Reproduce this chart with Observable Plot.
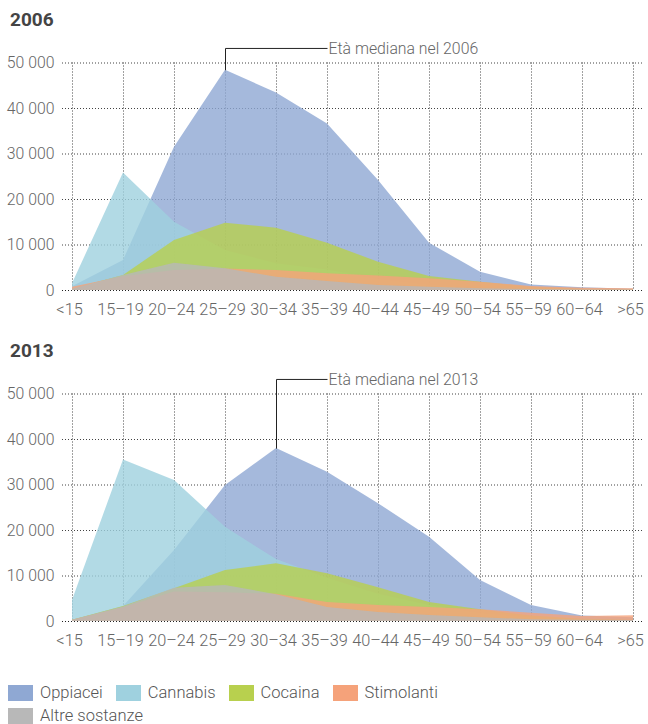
<!DOCTYPE html>
<html><head><meta charset="utf-8">
<script src="https://cdn.jsdelivr.net/npm/d3@7"></script>
<script src="https://cdn.jsdelivr.net/npm/@observablehq/plot@0.6"></script>
<style>
body{margin:0;background:#fff;font-family:Roboto,sans-serif;}
#wrap{position:relative;width:648px;height:724px;overflow:hidden;}
.title{position:absolute;left:10px;font-weight:bold;font-size:19px;line-height:19px;color:#444;font-family:Roboto,sans-serif;}
.chart{position:absolute;left:0;}
#legend{position:absolute;left:8px;top:685px;width:490px;display:flex;flex-wrap:wrap;row-gap:7px;font-size:16.5px;line-height:16px;color:#555;font-weight:300;}
.item{display:flex;align-items:center;margin-right:13px;}
.sw{width:25px;height:16px;margin-right:7px;}
</style></head>
<body><div id="wrap"></div>
<script>
const ages = ["<15","15–19","20–24","25–29","30–34","35–39","40–44","45–49","50–54","55–59","60–64",">65"];
const series = ["Oppiacei","Cannabis","Cocaina","Stimolanti","Altre sostanze"];
const colors = ["#8fa8d3","#9fd1df","#b8d04e","#f5a27a","#b8b8b8"];
const years = ["2006","2013"];
const yTicks = [0,10000,20000,30000,40000,50000];

const opp2006 = [800,6600,31500,48400,43400,36600,24200,10400,4000,1200,600,300];
const can2006 = [1500,25800,15000,8800,5900,4500,2500,1200,500,200,100,50];
const coc2006 = [300,3300,11000,14800,13700,10400,6200,3100,1800,700,300,200];
const sti2006 = [700,3000,4400,4700,4400,3700,3200,2600,1800,900,500,400];
const alt2006 = [300,3300,6000,4800,2900,2000,1100,700,400,200,100,100];

const opp2013 = [300,3300,15600,29900,38000,32800,25900,18500,9000,3500,1200,800];
const can2013 = [4600,35500,31000,20700,13600,9500,6000,3500,1800,800,300,100];
const coc2013 = [300,3300,7200,11200,12700,10500,7400,4200,2600,1200,500,300];
const sti2013 = [300,3000,6500,6300,6000,4200,3500,3100,2600,1800,1100,1250];
const alt2013 = [300,3200,7300,7900,5900,3100,2000,1300,800,400,300,200];

const medianAge = ["25–29","30–34"];
const medianPeak = [48400,38000];
const medianLabelAge = "35–39";
const medianLabelY = 53200;
const medianLabels = ["Età mediana nel 2006","Età mediana nel 2013"];

const titleTops = [10,341];
const chartTops = [30,361];

const valuesByYear = [
  [opp2006,can2006,coc2006,sti2006,alt2006],
  [opp2013,can2013,coc2013,sti2013,alt2013]
];

const fmt = d => d3.format(",")(d).replace(/,/g," ");
const wrap = document.getElementById("wrap");

years.forEach((yr, k) => {
  const t = document.createElement("div");
  t.className = "title"; t.style.top = titleTops[k] + "px"; t.textContent = yr;
  wrap.appendChild(t);

  const data = series.flatMap((s,i) => ages.map((a,j) => ({series:s, age:a, value: valuesByYear[k][i][j]})));
  const annot = [{age: medianAge[k], peak: medianPeak[k], ly: medianLabelY, lab: medianLabelAge, text: medianLabels[k]}];

  const chart = Plot.plot({
    width: 648, height: 290,
    marginLeft: 62, marginRight: 6, marginTop: 32.5, marginBottom: 30,
    style: {fontFamily: "Roboto, sans-serif", fontSize: "15.5px", fontWeight: 300, color: "#666", background: "transparent", overflow: "visible"},
    x: {type: "point", domain: ages, padding: 0.14, label: null},
    y: {domain: [0,50000], label: null},
    color: {domain: series, range: colors},
    marks: [
      Plot.gridX({stroke: "#222", strokeOpacity: 0.85, strokeDasharray: "1,2"}),
      Plot.gridY(yTicks, {stroke: "#222", strokeOpacity: 0.85, strokeDasharray: "1,2"}),
      Plot.areaY(data, {x: "age", y1: 0, y2: "value", z: "series", fill: "series", fillOpacity: 0.8}),
      Plot.ruleY([0], {stroke: "#222", strokeDasharray: "1,2"}),
      Plot.link(annot, {x1: "age", x2: "age", y1: "peak", y2: "ly", stroke: "#222", strokeWidth: 1}),
      Plot.link(annot, {x1: "age", x2: "lab", y1: "ly", y2: "ly", stroke: "#222", strokeWidth: 1}),
      Plot.text(annot, {x: "lab", y: "ly", text: "text", textAnchor: "start", dx: 1, fill: "#666", fontSize: 15.8}),
      Plot.axisX({tickSize: 0, tickPadding: 13, fontSize: 16.3, dx: -3, fill: "#666"}),
      Plot.axisY(yTicks, {tickSize: 0, tickPadding: 8, tickFormat: fmt, fontSize: 15.8, fill: "#666"})
    ]
  });
  chart.classList.add("chart");
  chart.style.top = chartTops[k] + "px";
  wrap.appendChild(chart);
});

const legend = document.createElement("div");
legend.id = "legend";
series.forEach((s,i) => {
  const it = document.createElement("div"); it.className = "item";
  const sw = document.createElement("div"); sw.className = "sw"; sw.style.background = colors[i];
  const lb = document.createElement("span"); lb.textContent = s;
  it.appendChild(sw); it.appendChild(lb); legend.appendChild(it);
});
wrap.appendChild(legend);
</script>
</body></html>
